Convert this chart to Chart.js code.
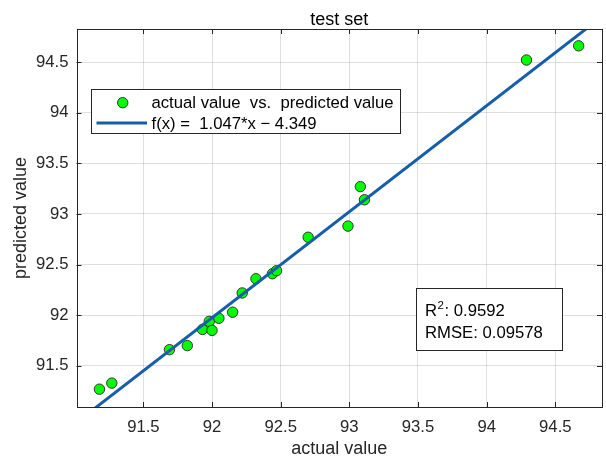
<!DOCTYPE html>
<html>
<head>
<meta charset="utf-8">
<script src="https://cdn.jsdelivr.net/npm/chart.js@4/dist/chart.umd.min.js"></script>
<style>
  html, body { margin: 0; padding: 0; background: #fff; }
  #wrap { width: 606px; height: 460px; }
</style>
</head>
<body>
<div id="wrap"><canvas id="chart" width="606" height="460"></canvas></div>
<script>
// test set: actual vs predicted
const actualValues = [91.18, 91.27, 91.69, 91.82, 91.93, 91.98, 92.00, 92.05, 92.15, 92.22,
    92.32, 92.44, 92.47, 92.70, 92.99, 93.08, 93.11, 94.29, 94.67];
const predictedValues = [91.27, 91.33, 91.66, 91.70, 91.86, 91.94, 91.85, 91.97, 92.03, 92.22,
    92.36, 92.41, 92.44, 92.77, 92.88, 93.27, 93.14, 94.52, 94.66];

// fitted line f(x) = 1.047*x - 4.349, end points
const fitX = [91.0, 95.0];
const fitY = [90.928, 95.116];

const xTicks = [91.5, 92, 92.5, 93, 93.5, 94, 94.5];
const yTicks = [91.5, 92, 92.5, 93, 93.5, 94, 94.5];

const legendLabels = ['actual value  vs.  predicted value', 'f(x) =  1.047*x \u2212 4.349'];
const r2Text = '0.9592';
const rmseText = '0.09578';

const FONT = "'Liberation Sans', Arial, Helvetica, sans-serif";
const GREEN = '#00ff00';
const BLUE = 'rgb(22, 94, 170)';
const AXIS = '#262626';

const framePlugin = {
    id: 'frame',
    afterDatasetsDraw(chart) {
        const ctx = chart.ctx;
        const a = chart.chartArea;
        const xs = chart.scales.x;
        const ys = chart.scales.y;
        ctx.save();

        // box and inward ticks on all four sides
        ctx.strokeStyle = AXIS;
        ctx.lineWidth = 1;
        ctx.strokeRect(Math.round(a.left) + 0.5, Math.round(a.top) + 0.5,
            Math.round(a.right - a.left) - 1, Math.round(a.bottom - a.top));
        ctx.beginPath();
        xTicks.forEach(v => {
            const px = Math.round(xs.getPixelForValue(v)) + 0.5;
            ctx.moveTo(px, a.bottom); ctx.lineTo(px, a.bottom - 5);
            ctx.moveTo(px, a.top); ctx.lineTo(px, a.top + 5);
        });
        yTicks.forEach(v => {
            const py = Math.round(ys.getPixelForValue(v)) + 0.5;
            ctx.moveTo(a.left, py); ctx.lineTo(a.left + 5, py);
            ctx.moveTo(a.right, py); ctx.lineTo(a.right - 5, py);
        });
        ctx.stroke();

        // title
        ctx.fillStyle = '#000';
        ctx.font = '18px ' + FONT;
        ctx.textAlign = 'center';
        ctx.textBaseline = 'alphabetic';
        ctx.fillText('test set', (a.left + a.right) / 2, 25);

        // legend
        ctx.fillStyle = '#fff';
        ctx.fillRect(92, 89, 308, 44);
        ctx.strokeStyle = AXIS;
        ctx.strokeRect(91.5, 89.5, 309, 44);
        ctx.beginPath();
        ctx.arc(122.7, 102.7, 5.2, 0, Math.PI * 2);
        ctx.fillStyle = GREEN;
        ctx.fill();
        ctx.strokeStyle = '#333';
        ctx.stroke();
        ctx.beginPath();
        ctx.moveTo(96.5, 123);
        ctx.lineTo(147, 123);
        ctx.strokeStyle = BLUE;
        ctx.lineWidth = 3;
        ctx.stroke();
        ctx.fillStyle = '#000';
        ctx.font = '16.7px ' + FONT;
        ctx.textAlign = 'left';
        ctx.fillText(legendLabels[0], 151.5, 107.5);
        ctx.fillText(legendLabels[1], 151.5, 129.3);

        // stats box
        ctx.fillStyle = '#fff';
        ctx.fillRect(416, 288, 146, 62);
        ctx.strokeStyle = AXIS;
        ctx.lineWidth = 1;
        ctx.strokeRect(416.5, 288.5, 146, 62);
        ctx.fillStyle = '#000';
        ctx.fillText('R', 425, 315.7);
        let x = 425 + ctx.measureText('R').width;
        ctx.font = '11.5px ' + FONT;
        ctx.fillText('2', x + 0.5, 308.5);
        x += ctx.measureText('2').width + 1;
        ctx.font = '16.7px ' + FONT;
        ctx.fillText(': ' + r2Text, x, 315.7);
        ctx.fillText('RMSE: ' + rmseText, 425, 338.3);

        ctx.restore();
    }
};

new Chart(document.getElementById('chart'), {
    type: 'scatter',
    data: {
        datasets: [
            {
                type: 'line',
                label: legendLabels[1],
                data: fitX.map((x, i) => ({ x: x, y: fitY[i] })),
                borderColor: BLUE,
                borderWidth: 3,
                pointRadius: 0,
                fill: false,
                clip: 0,
                order: 0
            },
            {
                label: legendLabels[0],
                data: actualValues.map((x, i) => ({ x: x, y: predictedValues[i] })),
                backgroundColor: GREEN,
                borderColor: '#333',
                borderWidth: 1,
                pointRadius: 5.2,
                order: 1
            }
        ]
    },
    options: {
        responsive: false,
        devicePixelRatio: 1,
        animation: false,
        layout: { autoPadding: false, padding: { top: 29, right: 4, left: 0, bottom: 0 } },
        plugins: {
            legend: { display: false },
            tooltip: { enabled: false },
            title: { display: false }
        },
        scales: {
            x: {
                type: 'linear',
                min: 91.013,
                max: 94.84,
                afterBuildTicks: (scale) => { scale.ticks = xTicks.map(v => ({ value: v })); },
                afterFit: (scale) => { scale.height = 53; },
                grid: { color: 'rgba(38,38,38,0.15)', drawTicks: false },
                border: { display: false },
                ticks: {
                    color: AXIS,
                    padding: 10,
                    font: { family: FONT, size: 16.7 },
                    callback: (v) => String(v)
                },
                title: {
                    display: true,
                    text: 'actual value',
                    color: AXIS,
                    font: { family: FONT, size: 18 },
                    padding: { top: 0, bottom: 0 }
                }
            },
            y: {
                type: 'linear',
                min: 91.094,
                max: 94.826,
                afterBuildTicks: (scale) => { scale.ticks = yTicks.map(v => ({ value: v })); },
                afterFit: (scale) => { scale.width = 76.5; },
                grid: { color: 'rgba(38,38,38,0.15)', drawTicks: false },
                border: { display: false },
                ticks: {
                    color: AXIS,
                    padding: 8,
                    font: { family: FONT, size: 16.7 },
                    callback: (v) => String(v)
                },
                title: {
                    display: true,
                    text: 'predicted value',
                    color: AXIS,
                    font: { family: FONT, size: 18 },
                    padding: { top: 10, bottom: 0 }
                }
            }
        }
    },
    plugins: [framePlugin]
});
</script>
</body>
</html>
